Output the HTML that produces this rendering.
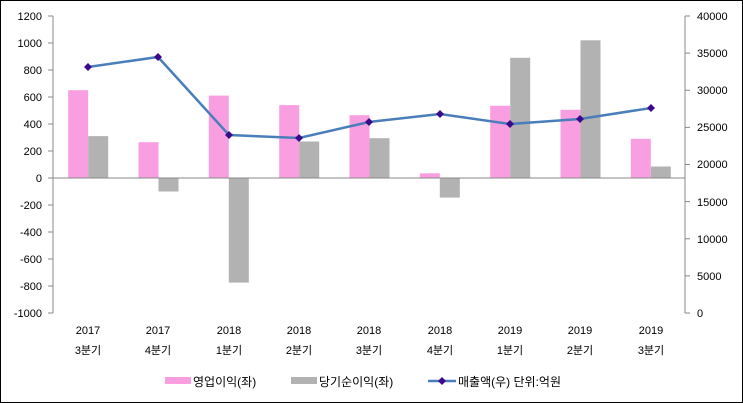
<!DOCTYPE html>
<html><head><meta charset="utf-8"><style>
html,body{margin:0;padding:0;background:#fff}
svg{display:block;font-family:"Liberation Sans","Noto Sans CJK KR",sans-serif}
</style></head><body>
<svg width="743" height="403" viewBox="0 0 743 403">
<rect x="0.5" y="0.5" width="742" height="402" fill="#fff" stroke="#000"/>
<g fill="#f99ee0">
<rect x="68.2" y="90.2" width="20" height="87.8"/>
<rect x="138.5" y="142.2" width="20" height="35.8"/>
<rect x="208.8" y="95.6" width="20" height="82.4"/>
<rect x="279.2" y="105.1" width="20" height="72.9"/>
<rect x="349.5" y="115.2" width="20" height="62.8"/>
<rect x="419.8" y="173.3" width="20" height="4.7"/>
<rect x="490.2" y="105.8" width="20" height="72.2"/>
<rect x="560.5" y="109.8" width="20" height="68.2"/>
<rect x="630.8" y="138.8" width="20" height="39.2"/>
</g>
<g fill="#b2b2b2">
<rect x="88.2" y="136.1" width="20" height="41.9"/>
<rect x="158.5" y="178" width="20" height="13.5"/>
<rect x="228.8" y="178" width="20" height="104.6"/>
<rect x="299.2" y="141.5" width="20" height="36.5"/>
<rect x="369.5" y="138.2" width="20" height="39.8"/>
<rect x="439.8" y="178" width="20" height="19.6"/>
<rect x="510.2" y="57.8" width="20" height="120.2"/>
<rect x="580.5" y="40.3" width="20" height="137.7"/>
<rect x="650.8" y="166.5" width="20" height="11.5"/>
</g>
<g stroke="#888" stroke-width="1" fill="none">
<line x1="53" y1="16" x2="53" y2="313"/>
<line x1="685" y1="16" x2="685" y2="313"/>
<line x1="48" y1="178" x2="685" y2="178"/>
<path d="M48 16H53M48 43H53M48 70H53M48 97H53M48 124H53M48 151H53M48 205H53M48 232H53M48 259H53M48 286H53M48 313H53"/>
<path d="M685 16H690M685 53.1H690M685 90.3H690M685 127.4H690M685 164.5H690M685 201.6H690M685 238.8H690M685 275.9H690M685 313H690"/>
</g>
<g font-size="11" text-anchor="end" fill="#000">
<text x="42" y="20">1200</text><text x="42" y="47">1000</text><text x="42" y="74">800</text><text x="42" y="101">600</text><text x="42" y="128">400</text><text x="42" y="155">200</text><text x="42" y="182">0</text><text x="42" y="209">-200</text><text x="42" y="236">-400</text><text x="42" y="263">-600</text><text x="42" y="290">-800</text><text x="42" y="317">-1000</text>
</g>
<g font-size="11" fill="#000">
<text x="697" y="20">40000</text><text x="697" y="57">35000</text><text x="697" y="94">30000</text><text x="697" y="131">25000</text><text x="697" y="168">20000</text><text x="697" y="206">15000</text><text x="697" y="243">10000</text><text x="697" y="280">5000</text><text x="697" y="317">0</text>
</g>
<g font-size="11" text-anchor="middle" fill="#000">
<text x="88" y="334">2017</text><text x="88" y="354">3분기</text>
<text x="158" y="334">2017</text><text x="158" y="354">4분기</text>
<text x="229" y="334">2018</text><text x="229" y="354">1분기</text>
<text x="299" y="334">2018</text><text x="299" y="354">2분기</text>
<text x="369" y="334">2018</text><text x="369" y="354">3분기</text>
<text x="440" y="334">2018</text><text x="440" y="354">4분기</text>
<text x="510" y="334">2019</text><text x="510" y="354">1분기</text>
<text x="580" y="334">2019</text><text x="580" y="354">2분기</text>
<text x="651" y="334">2019</text><text x="651" y="354">3분기</text>
</g>
<polyline points="88,67 158,57 229,135 299,138 369,122 440,114 510,124 580,119 651,108" fill="none" stroke="#4a7ebb" stroke-width="2.5"/>
<g fill="#3a0a8a">
<path d="M88 63l4 4-4 4-4-4z"/><path d="M158 53l4 4-4 4-4-4z"/><path d="M229 131l4 4-4 4-4-4z"/><path d="M299 134l4 4-4 4-4-4z"/><path d="M369 118l4 4-4 4-4-4z"/><path d="M440 110l4 4-4 4-4-4z"/><path d="M510 120l4 4-4 4-4-4z"/><path d="M580 115l4 4-4 4-4-4z"/><path d="M651 104l4 4-4 4-4-4z"/>
</g>
<rect x="165" y="377" width="26" height="7" fill="#f99ee0"/>
<text x="193" y="386" font-size="12">영업이익(좌)</text>
<rect x="291" y="377" width="26" height="7" fill="#b2b2b2"/>
<text x="319" y="386" font-size="12">당기순이익(좌)</text>
<line x1="428" y1="381" x2="456" y2="381" stroke="#4a7ebb" stroke-width="2.5"/>
<path d="M442 377l4 4-4 4-4-4z" fill="#3a0a8a"/>
<text x="458" y="386" font-size="12">매출액(우)  단위:억원</text>
</svg>
</body></html>
